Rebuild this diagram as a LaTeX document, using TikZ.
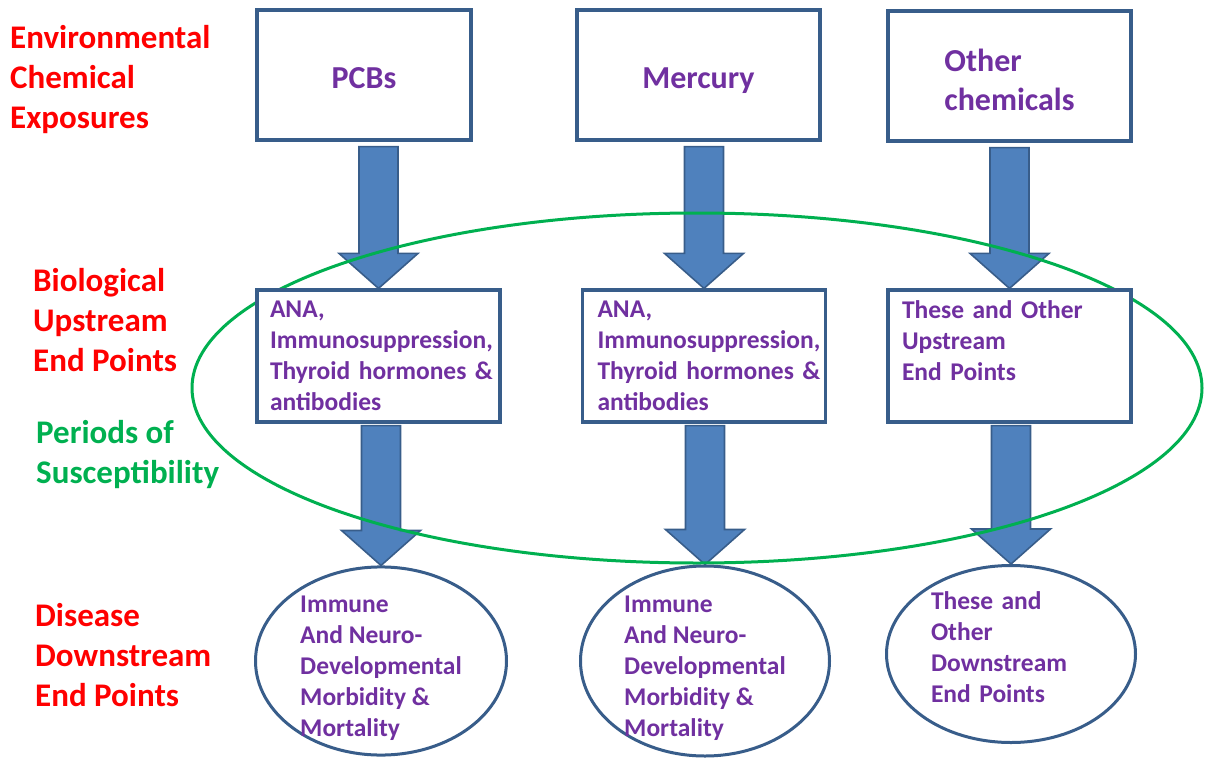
\documentclass[tikz,border=0pt]{standalone}
\usepackage{fontspec}
\setmainfont{Carlito}
\usetikzlibrary{shapes.geometric,calc}
\definecolor{boxblue}{HTML}{385D8A}
\definecolor{arrowblue}{HTML}{4F81BD}
\definecolor{txtpurple}{HTML}{7030A0}
\definecolor{periodgreen}{HTML}{00B050}
\pgfdeclarelayer{background}
\pgfsetlayers{background,main}
\newcommand{\fatarrow}[3]{%
  \path ($(#2.north |- #1.south)+(0,#3)$) coordinate (s) (#2.north) coordinate (t);
  \draw[fat arrow] ($(s)+(-19.5,0)$) -- ($(t)+(-19.5,-35)$) -- ($(t)+(-39.5,-35)$)
    -- (t) -- ($(t)+(39.5,-35)$) -- ($(t)+(19.5,-35)$) -- ($(s)+(19.5,0)$) -- cycle;}
\begin{document}
\begin{tikzpicture}[x=1pt, y=-1pt,
  chem/.style = {rectangle, draw=boxblue, line width=3.2pt, fill=white,
    text=txtpurple, font=\fontsize{32}{39}\selectfont\bfseries,
    align=left, minimum height=130pt},
  upstream/.style = {rectangle, draw=boxblue, line width=3.2pt, fill=white,
    text=txtpurple, font=\fontsize{25.5}{31}\selectfont\bfseries,
    align=left, minimum width=243pt, minimum height=132pt},
  downstream/.style = {ellipse, draw=boxblue, line width=3pt, fill=white,
    text=txtpurple, font=\fontsize{25.5}{31}\selectfont\bfseries,
    align=left, inner xsep=4pt, inner ysep=-13pt},
  rowlabel/.style = {anchor=west, align=left, inner sep=0pt,
    font=\fontsize{33}{40}\selectfont\bfseries},
  fat arrow/.style = {draw=boxblue, line width=1.6pt, fill=arrowblue,
    line join=miter}]
  \useasboundingbox (0,0) rectangle (1205,760);

  \node[rowlabel, text=red] (envlabel) at (10,80) {Environmental\\Chemical\\Exposures};
  \node[rowlabel, text=red] (biolabel) at (33,320) {Biological\\Upstream\\End Points};
  \node[rowlabel, text=periodgreen] (periodlabel) at (36,455) {Periods of\\Susceptibility};
  \node[rowlabel, text=red] (diseaselabel) at (35,655) {Disease\\Downstream\\End Points};

  \node[chem, minimum width=214pt, text depth=0pt] (pcb) at (364,75) {\rule{0pt}{27pt}PCBs};
  \node[chem, minimum width=243pt, text depth=0pt] (mercury) at (698.5,75) {\rule{0pt}{27pt}Mercury};
  \node[chem, minimum width=243pt] (other) at (1009.5,76) {\rule{0pt}{30pt}Other\\chemicals};

  \node[upstream, text width=217pt, inner xsep=13pt] (pcbup) at (378.5,356)
    {ANA,\\\mbox{Immunosuppression,}\\\mbox{Thyroid hormones \&}\\antibodies};
  \node[upstream, text width=213pt, inner xsep=15pt] (mercup) at (704,356)
    {ANA,\\\mbox{Immunosuppression,}\\\mbox{Thyroid hormones \&}\\antibodies};
  \node[upstream, text width=215pt, inner xsep=14pt] (otherup) at (1009.5,356)
    {These and Other\\Upstream\\End Points\\\mbox{}};

  \node[downstream, minimum width=251pt, minimum height=186pt] (pcbdown) at (381,661)
    {\rule{0pt}{31pt}Immune\\And Neuro-\\Developmental\\Morbidity \&\\Mortality};
  \node[downstream, minimum width=249pt, minimum height=190pt] (mercdown) at (705,661)
    {\rule{0pt}{31pt}Immune\\And Neuro-\\Developmental\\Morbidity \&\\Mortality};
  \node[downstream, minimum width=249pt, minimum height=177pt,
    text width=160pt] (otherdown) at (1011,654)
    {These and\\Other\\Downstream\\End Points\\[-18pt]\mbox{}};

  \begin{pgfonlayer}{background}
    \fatarrow{pcb}{pcbup}{5}
    \fatarrow{mercury}{mercup}{5}
    \fatarrow{other}{otherup}{5}
    \fatarrow{pcbup}{pcbdown}{2}
    \fatarrow{mercup}{mercdown}{2}
    \fatarrow{otherup}{otherdown}{2}
    \draw[periodgreen, line width=3pt] (697,388) ellipse [x radius=505, y radius=175];
  \end{pgfonlayer}
\end{tikzpicture}
\end{document}
